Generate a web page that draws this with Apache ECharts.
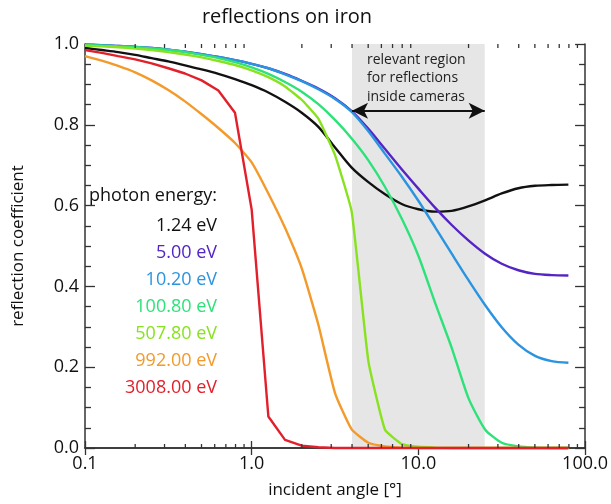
<!DOCTYPE html>
<html><head><meta charset="utf-8">
<script src="https://cdn.jsdelivr.net/npm/echarts@6/dist/echarts.min.js"></script>
<style>html,body{margin:0;padding:0;background:#fff}#c{width:611px;height:504px}</style>
</head><body><div id="c"></div>
<script>
// incident angles [deg], sampled at 10^(k/10)
const angles = [0.1, 0.126, 0.158, 0.2, 0.251, 0.316, 0.398, 0.501, 0.631, 0.794, 1.0, 1.259, 1.585, 1.995, 2.512, 3.162, 3.981, 5.012, 6.31, 7.943, 10.0, 12.59, 15.85, 19.95, 25.12, 31.62, 39.81, 50.12, 63.1, 79.43];
const energies = ['1.24 eV', '5.00 eV', '10.20 eV', '100.80 eV', '507.80 eV', '992.00 eV', '3008.00 eV'];
const r1p24 = [0.990, 0.985, 0.980, 0.973, 0.965, 0.957, 0.947, 0.937, 0.926, 0.913, 0.898, 0.880, 0.857, 0.830, 0.795, 0.744, 0.694, 0.658, 0.628, 0.604, 0.591, 0.585, 0.587, 0.598, 0.613, 0.630, 0.643, 0.649, 0.651, 0.652];
const r5p00 = [0.998, 0.997, 0.995, 0.993, 0.990, 0.986, 0.981, 0.975, 0.968, 0.960, 0.951, 0.940, 0.926, 0.909, 0.890, 0.866, 0.834, 0.790, 0.740, 0.690, 0.642, 0.595, 0.552, 0.514, 0.481, 0.456, 0.440, 0.431, 0.428, 0.427];
const r10p2 = [0.998, 0.997, 0.995, 0.993, 0.990, 0.986, 0.981, 0.975, 0.968, 0.960, 0.951, 0.940, 0.925, 0.908, 0.888, 0.864, 0.832, 0.784, 0.728, 0.672, 0.612, 0.547, 0.481, 0.416, 0.354, 0.299, 0.256, 0.228, 0.215, 0.211];
const r100p8 = [0.997, 0.996, 0.994, 0.992, 0.989, 0.985, 0.980, 0.973, 0.965, 0.955, 0.942, 0.926, 0.906, 0.882, 0.851, 0.812, 0.766, 0.712, 0.646, 0.568, 0.476, 0.360, 0.248, 0.124, 0.046, 0.013, 0.004, 0.001, 0.0, 0.0];
const r507p8 = [0.996, 0.994, 0.992, 0.989, 0.985, 0.980, 0.974, 0.967, 0.958, 0.948, 0.935, 0.918, 0.895, 0.862, 0.815, 0.725, 0.585, 0.215, 0.045, 0.010, 0.003, 0.001, 0.0, 0.0, 0.0, 0.0, 0.0, 0.0, 0.0, 0.0];
const r992 = [0.970, 0.959, 0.946, 0.930, 0.910, 0.886, 0.858, 0.826, 0.792, 0.755, 0.707, 0.630, 0.545, 0.445, 0.305, 0.136, 0.046, 0.013, 0.004, 0.001, 0.0, 0.0, 0.0, 0.0, 0.0, 0.0, 0.0, 0.0, 0.0, 0.0];
const r3008 = [0.985, 0.978, 0.970, 0.962, 0.952, 0.940, 0.927, 0.910, 0.885, 0.830, 0.590, 0.078, 0.020, 0.006, 0.002, 0.0, 0.0, 0.0, 0.0, 0.0, 0.0, 0.0, 0.0, 0.0, 0.0, 0.0, 0.0, 0.0, 0.0, 0.0];
const curves = [r1p24, r5p00, r10p2, r100p8, r507p8, r992, r3008];
const colors = ['#111111', '#5424c4', '#2b94e0', '#2ee27a', '#88e21e', '#f39a2a', '#e2202b'];
const smoothness = [0.3, 0.3, 0.3, 0.2, 0.12, 0.15, 0];
const xMinorTicks = [0.2,0.3,0.4,0.5,0.6,0.7,0.8,0.9,2,3,4,5,6,7,8,9,20,30,40,50,60,70,80,90];
const regionRange = [4, 25];
const arrowLevel = 0.835;
const regionText = ['relevant region', 'for reflections', 'inside cameras'];
const titleText = 'reflections on iron';
const legendTitle = 'photon energy:';

const FONT = '"Open Sans", sans-serif';
const chart = echarts.init(document.getElementById('c'), null, {renderer: 'canvas'});

const axisCol = '#333333';
const series = curves.map((vals, i) => ({
  name: energies[i], type: 'line', xAxisIndex: 0, yAxisIndex: 0,
  data: angles.map((a, k) => [a, vals[k]]),
  showSymbol: false, symbol: 'none', clip: false, z: 3,
  smooth: smoothness[i] || false,
  lineStyle: {color: colors[i], width: 2.4}, itemStyle: {color: colors[i]}
}));

series.unshift({
  type: 'line', data: [], z: 1, silent: true,
  markArea: {silent: true, itemStyle: {color: '#e6e6e6'}, data: [[{xAxis: regionRange[0]}, {xAxis: regionRange[1]}]]},
  markLine: {silent: true, symbol: ['arrow', 'arrow'], symbolSize: [12, 16],
    lineStyle: {color: '#111', width: 2, type: 'solid'}, label: {show: false},
    data: [[{coord: [regionRange[0], arrowLevel]}, {coord: [regionRange[1], arrowLevel]}]]}
});

series.push({
  type: 'custom', xAxisIndex: 0, yAxisIndex: 0, z: 6, silent: true, clip: false,
  data: xMinorTicks.map(v => [v]),
  encode: {x: 0},
  renderItem: function (params, api) {
    const v = api.value(0);
    const b = api.coord([v, 0]);
    const t = api.coord([v, 1]);
    const st = {stroke: axisCol, lineWidth: 1.3};
    return {type: 'group', children: [
      {type: 'line', shape: {x1: b[0], y1: b[1], x2: b[0], y2: b[1] - 4}, style: st},
      {type: 'line', shape: {x1: t[0], y1: t[1], x2: t[0], y2: t[1] + 4}, style: st}
    ]};
  }
});

const graphics = [];
graphics.push({type: 'text', x: 287, y: 17, style: {text: titleText, font: '20px ' + FONT, fill: '#111', align: 'center', verticalAlign: 'middle'}});
regionText.forEach((t, i) => graphics.push({type: 'text', x: 367, y: 60 + i * 18.5, z: 10,
  style: {text: t, font: '14px ' + FONT, fill: '#222', align: 'left', verticalAlign: 'middle'}}));
graphics.push({type: 'text', x: 217, y: 196, z: 10, style: {text: legendTitle, font: '18px ' + FONT, fill: '#111', align: 'right', verticalAlign: 'middle'}});
energies.forEach((e, i) => graphics.push({type: 'text', x: 217, y: 226 + i * 26.9, z: 10,
  style: {text: e, font: '18px ' + FONT, fill: colors[i], align: 'right', verticalAlign: 'middle'}}));

const lab = {fontFamily: FONT, fontSize: 18, color: '#111'};
chart.setOption({
  animation: false,
  backgroundColor: '#ffffff',
  grid: {left: 85, right: 23, top: 44, bottom: 56, containLabel: false},
  xAxis: [
    {type: 'log', logBase: 10, min: 0.1, max: 100, position: 'bottom',
     name: 'incident angle [°]', nameLocation: 'middle', nameGap: 34,
     nameTextStyle: {fontFamily: FONT, fontSize: 17, color: '#111'},
     axisLine: {show: true, lineStyle: {color: axisCol, width: 1.5}},
     axisTick: {show: true, inside: true, length: 7, lineStyle: {color: axisCol, width: 1.3}},
     minorTick: {show: false}, splitLine: {show: false},
     axisLabel: Object.assign({margin: 7, formatter: v => Number(v).toFixed(1)}, lab)},
    {type: 'log', logBase: 10, min: 0.1, max: 100, position: 'top',
     axisLine: {show: true, lineStyle: {color: axisCol, width: 1.5}},
     axisTick: {show: true, inside: true, length: 7, lineStyle: {color: axisCol, width: 1.3}},
     splitLine: {show: false}, axisLabel: {show: false}}
  ],
  yAxis: [
    {type: 'value', min: 0, max: 1, interval: 0.2, position: 'left',
     name: 'reflection coefficient', nameLocation: 'middle', nameGap: 58,
     nameTextStyle: {fontFamily: FONT, fontSize: 17, color: '#111'},
     axisLine: {show: true, lineStyle: {color: axisCol, width: 1.5}},
     axisTick: {show: true, inside: true, length: 10, lineStyle: {color: axisCol, width: 1.3}},
     minorTick: {show: true, splitNumber: 4, length: 6, lineStyle: {color: axisCol, width: 1.3}},
     splitLine: {show: false},
     axisLabel: Object.assign({margin: 6, formatter: v => Number(v).toFixed(1)}, lab)},
    {type: 'value', min: 0, max: 1, interval: 0.2, position: 'right',
     axisLine: {show: true, lineStyle: {color: axisCol, width: 1.5}},
     axisTick: {show: true, inside: true, length: 10, lineStyle: {color: axisCol, width: 1.3}},
     minorTick: {show: true, splitNumber: 4, length: 6, lineStyle: {color: axisCol, width: 1.3}},
     splitLine: {show: false}, axisLabel: {show: false}}
  ],
  graphic: graphics,
  series: series
});
</script></body></html>
